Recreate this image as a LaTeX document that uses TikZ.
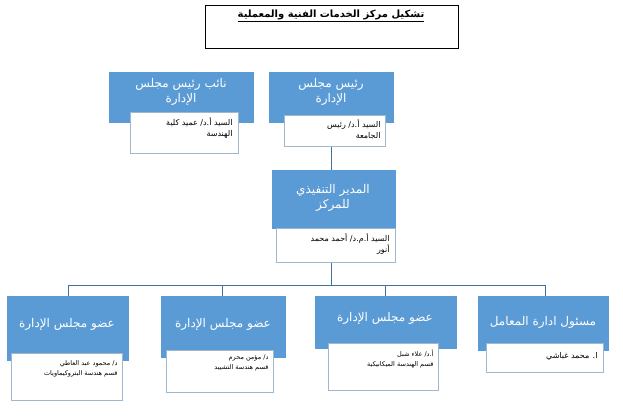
\documentclass[tikz,border=0pt]{standalone}
\usepackage{fontspec}
\newfontfamily\arabicfont[Script=Arabic]{DejaVu Sans}
\TeXXeTstate=1
\begin{document}
\begin{tikzpicture}[x=1pt,y=-1pt,
  bluebox/.style={fill=boxblue,draw=boxblue,inner sep=0pt},
  whitebox/.style={fill=white,draw=lineblue!50,line width=0.8pt,inner sep=0pt},
  conn/.style={draw=lineblue,line width=0.9pt},
  btxt/.style={text=white,font=\arabicfont\fontsize{12}{15}\selectfont,align=center},
  wtxt/.style={font=\arabicfont\fontsize{8}{11}\selectfont,align=right,anchor=north east},
  stxt/.style={font=\arabicfont\fontsize{6.5}{10}\selectfont,align=right,anchor=north east}]
\definecolor{boxblue}{HTML}{5B9BD5}
\definecolor{lineblue}{HTML}{41719C}
\useasboundingbox (0,0) rectangle (623,416);
% title
\draw[line width=0.8pt] (205,5) rectangle (458,48);
\node[font=\arabicfont\bfseries\fontsize{10}{12}\selectfont] (title) at (331,16) {\underline{\beginR تشكيل مركز الخدمات الفنية والمعملية\endR}};
% connectors
\coordinate (hl) at (68,285); \coordinate (hr) at (545,285); \coordinate (hm) at (331,285);
\draw[conn] (331,146) -- (331,170);
\draw[conn] (331,262) -- (hm);
\draw[conn] (68,296) -- (hl) -- (hr) -- (545,296);
\draw[conn] (222,285) -- (222,296);
\draw[conn] (385,285) -- (385,296);
% vice
\path[bluebox] (109,72) rectangle (253,122);
\node[btxt] (vice) at (181,92) {\beginR نائب رئيس مجلس\endR\\\beginR الإدارة\endR};
\path[whitebox] (130,112) rectangle (238,153);
\node[wtxt] (vicet) at (236,114) {\beginR السيد أ.د/ عميد كلية\endR\\\beginR الهندسة\endR};
% chairman
\path[bluebox] (269,72) rectangle (393,122);
\node[btxt] (chair) at (331,92) {\beginR رئيس مجلس\endR\\\beginR الإدارة\endR};
\path[whitebox] (284,115) rectangle (385,146);
\node[wtxt] (chairt) at (384,116) {\beginR السيد أ.د/ رئيس\endR\\\beginR الجامعة\endR};
% director
\path[bluebox] (272,170) rectangle (395,228);
\node[btxt] (dir) at (333,198) {\beginR المدير التنفيذي\endR\\\beginR للمركز\endR};
\path[whitebox] (276,228) rectangle (395,262);
\node[wtxt] (dirt) at (393,230) {\beginR السيد أ.م.د/ أحمد محمد\endR\\\beginR أنور\endR};
% bottom boxes
\path[bluebox] (7,296) rectangle (128,360);
\node[btxt] (m1) at (67,324) {\beginR عضو مجلس الإدارة\endR};
\path[whitebox] (11,353) rectangle (122,400);
\node[stxt] (m1t) at (121,357) {\beginR د/ محمود عبد العاطي\endR\\\beginR قسم هندسة البتروكيماويات\endR};
\path[bluebox] (161,296) rectangle (285,357);
\node[btxt] (m2) at (223,324) {\beginR عضو مجلس الإدارة\endR};
\path[whitebox] (166,350) rectangle (273,392);
\node[stxt] (m2t) at (272,351) {\beginR د/ مؤمن محرم\endR\\\beginR قسم هندسة التشييد\endR};
\path[bluebox] (315,296) rectangle (456,348);
\node[btxt] (m3) at (385,318) {\beginR عضو مجلس الإدارة\endR};
\path[whitebox] (328,343) rectangle (438,390);
\node[stxt] (m3t) at (437,346) {\beginR أ.د/ علاء شبل\endR\\\beginR قسم الهندسة الميكانيكية\endR};
\path[bluebox] (478,296) rectangle (608,350);
\node[btxt] (m4) at (543,322) {\beginR مسئول ادارة المعامل\endR};
\path[whitebox] (486,343) rectangle (603,372);
\node[wtxt] (m4t) at (601,349) {\beginR ا. محمد غباشي\endR};
\end{tikzpicture}
\end{document}
